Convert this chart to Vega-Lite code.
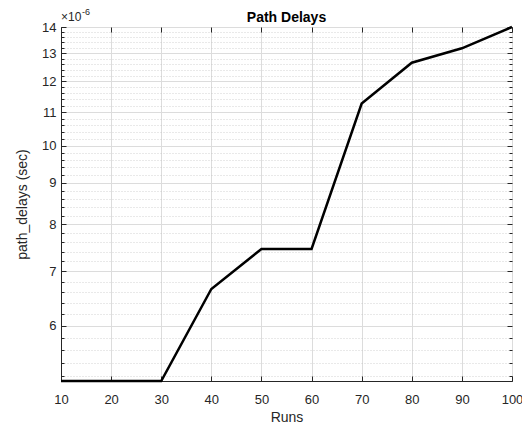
{
  "$schema": "https://vega.github.io/schema/vega-lite/v6.json",
  "autosize": "none",
  "width": 451,
  "height": 354,
  "padding": {"left": 61, "top": 27, "right": 10, "bottom": 47},
  "background": "white",
  "config": {
    "view": {"stroke": "#262626", "strokeWidth": 1},
    "font": "Liberation Sans",
    "axis": {"labelFont": "Liberation Sans", "titleFont": "Liberation Sans", "labelColor": "#262626", "titleColor": "#262626", "domainColor": "#262626", "tickColor": "#262626", "labelFontSize": 13, "titleFontSize": 14, "titleFontWeight": "normal", "labelFlush": false}
  },
  "title": {"text": "Path Delays", "fontSize": 14, "fontWeight": "bold", "color": "#000000", "font": "Liberation Sans", "offset": 0, "dy": 17},
  "data": {"values": [
    {"runs": 10, "delay": 5.13e-6},
    {"runs": 20, "delay": 5.13e-6},
    {"runs": 30, "delay": 5.13e-6},
    {"runs": 40, "delay": 6.66e-6},
    {"runs": 50, "delay": 7.46e-6},
    {"runs": 60, "delay": 7.46e-6},
    {"runs": 70, "delay": 11.27e-6},
    {"runs": 80, "delay": 12.65e-6},
    {"runs": 90, "delay": 13.18e-6},
    {"runs": 100, "delay": 14.0e-6}
  ]},
  "resolve": {"axis": {"x": "independent", "y": "independent"}},
  "layer": [
    {
      "mark": {"type": "line", "strokeOpacity": 0},
      "encoding": {
        "x": {"field": "runs", "type": "quantitative", "scale": {"domain": [10, 100], "nice": false, "zero": false},
          "axis": {"orient": "top", "values": [10,20,30,40,50,60,70,80,90,100], "labels": false, "domain": false, "grid": false, "ticks": true, "tickSize": -5, "title": null}},
        "y": {"field": "delay", "type": "quantitative", "scale": {"type": "log", "domain": [5.13e-6, 14e-6], "nice": false, "zero": false},
          "axis": {"orient": "left", "values": [5.2e-6,5.4e-6,5.6e-6,5.8e-6,6.2e-6,6.4e-6,6.6e-6,6.8e-6,7.2e-6,7.4e-6,7.6e-6,7.8e-6,8.2e-6,8.4e-6,8.6e-6,8.8e-6,9.2e-6,9.4e-6,9.6e-6,9.8e-6,10.2e-6,10.4e-6,10.6e-6,10.8e-6,11.2e-6,11.4e-6,11.6e-6,11.8e-6,12.2e-6,12.4e-6,12.6e-6,12.8e-6,13.2e-6,13.4e-6,13.6e-6,13.8e-6],
            "labels": false, "domain": false, "ticks": true, "tickSize": -3, "grid": true, "gridDash": [1, 2], "gridColor": "#bfbfbf", "gridOpacity": 0.7, "title": null}}
      }
    },
    {
      "mark": {"type": "line", "strokeOpacity": 0},
      "encoding": {
        "x": {"field": "runs", "type": "quantitative", "axis": null},
        "y": {"field": "delay", "type": "quantitative",
          "axis": {"orient": "right", "values": [5.2e-6,5.4e-6,5.6e-6,5.8e-6,6.2e-6,6.4e-6,6.6e-6,6.8e-6,7.2e-6,7.4e-6,7.6e-6,7.8e-6,8.2e-6,8.4e-6,8.6e-6,8.8e-6,9.2e-6,9.4e-6,9.6e-6,9.8e-6,10.2e-6,10.4e-6,10.6e-6,10.8e-6,11.2e-6,11.4e-6,11.6e-6,11.8e-6,12.2e-6,12.4e-6,12.6e-6,12.8e-6,13.2e-6,13.4e-6,13.6e-6,13.8e-6],
            "labels": false, "domain": false, "ticks": true, "tickSize": -3, "grid": false, "title": null}}
      }
    },
    {
      "mark": {"type": "line", "strokeOpacity": 0},
      "encoding": {
        "x": {"field": "runs", "type": "quantitative", "axis": null},
        "y": {"field": "delay", "type": "quantitative",
          "axis": {"orient": "right", "values": [6e-6,7e-6,8e-6,9e-6,10e-6,11e-6,12e-6,13e-6,14e-6], "labels": false, "domain": false, "ticks": true, "tickSize": -5, "grid": false, "title": null}}
      }
    },
    {
      "mark": {"type": "line", "color": "#000000", "strokeWidth": 2.5},
      "encoding": {
        "x": {"field": "runs", "type": "quantitative",
          "axis": {"orient": "bottom", "values": [10,20,30,40,50,60,70,80,90,100], "grid": true, "gridColor": "#dcdcdc", "tickSize": -5, "labelPadding": 17, "title": "Runs", "titlePadding": 4}},
        "y": {"field": "delay", "type": "quantitative",
          "axis": {"orient": "left", "values": [6e-6,7e-6,8e-6,9e-6,10e-6,11e-6,12e-6,13e-6,14e-6], "labelExpr": "format(datum.value*1e6, 'd')", "grid": true, "gridColor": "#dcdcdc", "tickSize": -5, "labelPadding": 10, "title": "path_delays (sec)", "titlePadding": 12}}
      }
    },
    {
      "data": {"values": [{"label": "×10"}]},
      "mark": {"type": "text", "align": "left", "baseline": "alphabetic", "dy": -6, "fontSize": 12, "color": "#262626", "font": "Liberation Sans"},
      "encoding": {
        "x": {"datum": 10, "type": "quantitative", "axis": null},
        "y": {"datum": 14e-6, "type": "quantitative", "axis": null},
        "text": {"field": "label"}
      }
    },
    {
      "data": {"values": [{"label": "-6"}]},
      "mark": {"type": "text", "align": "left", "baseline": "alphabetic", "dy": -12, "dx": 21, "fontSize": 9, "color": "#262626", "font": "Liberation Sans"},
      "encoding": {
        "x": {"datum": 10, "type": "quantitative", "axis": null},
        "y": {"datum": 14e-6, "type": "quantitative", "axis": null},
        "text": {"field": "label"}
      }
    }
  ]
}
